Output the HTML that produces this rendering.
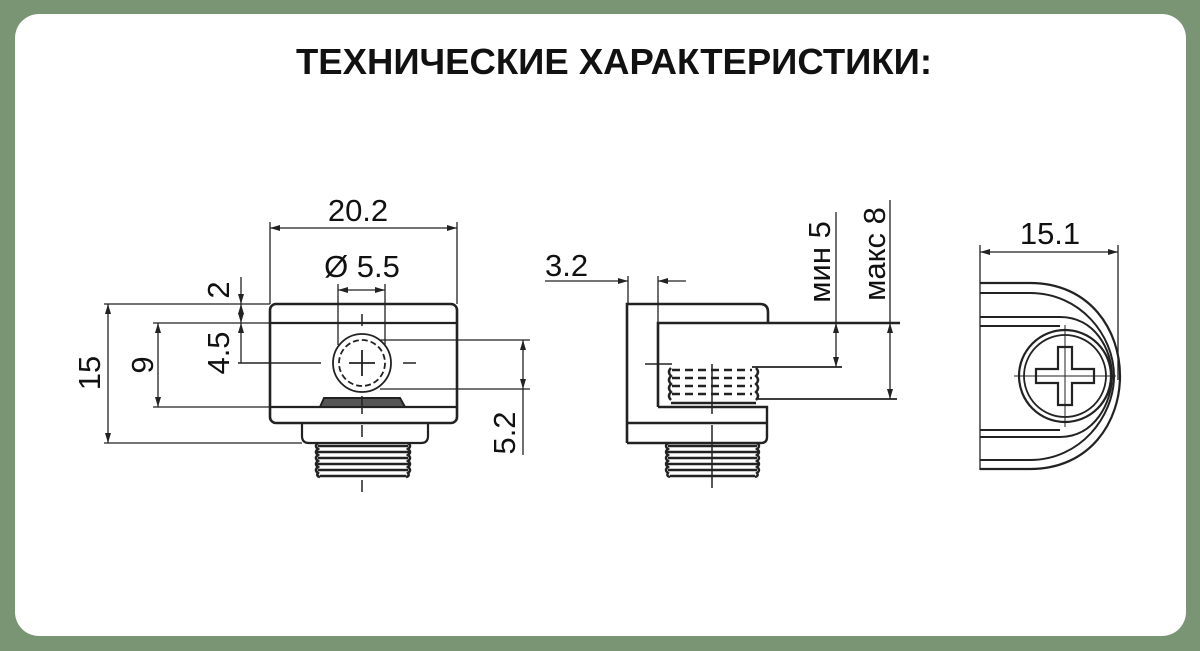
<!DOCTYPE html>
<html><head><meta charset="utf-8"><style>
html,body{margin:0;padding:0;background:#7a9574;}
body{width:1200px;height:651px;position:relative;overflow:hidden;}
.card{position:absolute;left:15px;top:14px;width:1171px;height:622px;background:#fff;border-radius:24px;}
svg{position:absolute;left:0;top:0;}
text{font-family:"Liberation Sans",sans-serif;fill:#111;}
</style></head><body>
<div class="card"></div>
<svg width="1200" height="651" viewBox="0 0 1200 651">
<defs>
<marker id="a" viewBox="0 0 10 6" refX="10" refY="3" markerWidth="10" markerHeight="6" orient="auto-start-reverse" markerUnits="userSpaceOnUse"><path d="M0,0 L10,3 L0,6 z" fill="#222"/></marker>
</defs>
<text x="614" y="74" text-anchor="middle" font-size="36" font-weight="bold" textLength="636" lengthAdjust="spacingAndGlyphs" style="font-family:'Liberation Sans',sans-serif">ТЕХНИЧЕСКИЕ ХАРАКТЕРИСТИКИ:</text>

<g stroke="#222" fill="none" stroke-width="1.3">
<!-- VIEW 1 -->
<rect x="270" y="304" width="187" height="119" rx="6" stroke-width="2.6"/>
<path d="M302 423 V436 Q302 443 309 443 H421 Q428 443 428 436 V423" stroke-width="2.2"/>
<path d="M270 323 H457 M270 407 H457" stroke-width="2.2"/>
<path d="M320 407 L324 398 H400 L405 407 Z" stroke-width="2" fill="#555"/>
<g stroke-width="2.6">
<path d="M318 446 H408 M316 452 H410 M318 458 H408 M316 464 H410 M318 470 H408 M320 476 H406"/>
<path d="M318 443 Q314 446 318 449 Q314 452 318 455 Q314 458 318 461 Q314 464 318 467 Q314 470 318 473 Q316 476 320 477"/>
<path d="M408 443 Q412 446 408 449 Q412 452 408 455 Q412 458 408 461 Q412 464 408 467 Q412 470 408 473 Q410 476 406 477"/>
</g>
<circle cx="362" cy="363" r="29" stroke-width="1.8"/>
<circle cx="362" cy="363" r="23" stroke-width="1.8" stroke-dasharray="6,3"/>
<path d="M362 350 V376 M349 363 H375" stroke-width="1.8"/>
<path d="M362 314 V326 M362 396 V414 M362 425 V437 M362 480 V492 M308 363 H321 M403 363 H416 M238 363 H310" stroke-width="1.5"/>
<path d="M270 222 V304 M457 222 V304"/>
<path d="M270 228 H457" marker-start="url(#a)" marker-end="url(#a)"/>
<path d="M338 284 V345 M385 284 V345"/>
<path d="M338 290 H385" marker-start="url(#a)" marker-end="url(#a)"/>
<path d="M104 304 H270 M104 443 H302"/>
<path d="M108 304 V443" marker-start="url(#a)" marker-end="url(#a)"/>
<path d="M153 323 H270 M153 407 H270"/>
<path d="M158 323 V407" marker-start="url(#a)" marker-end="url(#a)"/>
<path d="M241 277 V304" marker-end="url(#a)"/>
<path d="M241 304 V323" marker-start="url(#a)" marker-end="url(#a)"/>
<path d="M241 323 V363" marker-start="url(#a)"/>
<path d="M380 340 H530 M380 389 H530"/>
<path d="M523 340 V389" marker-start="url(#a)" marker-end="url(#a)"/>
<path d="M523 389 V455"/>

<!-- VIEW 2 -->
<path d="M658 407 V323 H900 M627 443 V304 H760 Q768 304 768 312 V323" stroke-width="2.6"/>
<path d="M658 407 H767 V437 Q767 443 761 443 H627 M627 423 H767" stroke-width="2.4"/>
<path d="M752 367 H842 M758 399 H897" stroke-width="1.8"/>
<g stroke-width="2.4">
<path d="M668 446 H757 M666 452 H759 M668 458 H757 M666 464 H759 M668 470 H757 M670 476 H755"/>
<path d="M668 443 Q664 446 668 449 Q664 452 668 455 Q664 458 668 461 Q664 464 668 467 Q664 470 668 473 Q666 476 670 477"/>
<path d="M757 443 Q761 446 757 449 Q761 452 757 455 Q761 458 757 461 Q761 464 757 467 Q761 470 757 473 Q759 476 755 477"/>
<path d="M671 403 H756 M671 368 Q667 372 671 376 Q667 380 671 384 Q667 388 671 392 Q667 396 671 400 M756 368 Q760 372 756 376 Q760 380 756 384 Q760 388 756 392 Q760 396 756 400"/>
<path d="M672 370 H752 M672 378 H752 M672 386 H752 M672 394 H752" stroke-dasharray="8,5"/>
</g>
<path d="M712 364 V414 M712 425 V488 M645 364 H672" stroke-width="1.5"/>
<path d="M628 276 V304 M658 276 V323"/>
<path d="M545 281 H628" marker-end="url(#a)"/>
<path d="M658 281 H686" marker-start="url(#a)"/>
<path d="M836 212 V323"/>
<path d="M836 323 V367" marker-start="url(#a)" marker-end="url(#a)"/>
<path d="M890 200 V323"/>
<path d="M890 323 V399" marker-start="url(#a)" marker-end="url(#a)"/>

<!-- VIEW 3 -->
<path d="M980 245 V470 M1118 245 V380" />
<path d="M980 252 H1118" marker-start="url(#a)" marker-end="url(#a)"/>
<path d="M980 283 H1030 C1090 283 1120 330 1120 376 C1120 422 1090 469 1030 469 H980" stroke-width="2.2"/>
<path d="M980 293 H1030 C1080 293 1114 335 1114 376 C1114 417 1080 460 1030 460 H980" stroke-width="2"/>
<path d="M980 317 H1060 C1095 317 1112 350 1112 376 C1112 402 1095 437 1060 437 H980" stroke-width="2"/>
<path d="M980 326 H1060 M980 430 H1060" stroke-width="2"/>
<circle cx="1065" cy="376" r="46" stroke-width="2.2"/>
<circle cx="1065" cy="376" r="41" stroke-width="1.8"/>
<path d="M1058 347 H1072 V369 H1094 V383 H1072 V405 H1058 V383 H1036 V369 H1058 Z" stroke-width="2.2"/>
<path d="M1065 325 V427 M1014 376 H1116" stroke-width="1"/>
</g>

<g font-size="31">
<text x="358" y="221" text-anchor="middle">20.2</text>
<text x="362" y="277" text-anchor="middle">Ø 5.5</text>
<text x="1050" y="244" text-anchor="middle">15.1</text>
<text x="545" y="276">3.2</text>
<text transform="translate(100,373) rotate(-90)" text-anchor="middle">15</text>
<text transform="translate(153,365) rotate(-90)" text-anchor="middle">9</text>
<text transform="translate(229,290) rotate(-90)" text-anchor="middle">2</text>
<text transform="translate(229,353) rotate(-90)" text-anchor="middle">4.5</text>
<text transform="translate(515,433) rotate(-90)" text-anchor="middle">5.2</text>
<text transform="translate(830,262) rotate(-90)" text-anchor="middle">мин 5</text>
<text transform="translate(885,254) rotate(-90)" text-anchor="middle">макс 8</text>
</g>
</svg>
</body></html>
